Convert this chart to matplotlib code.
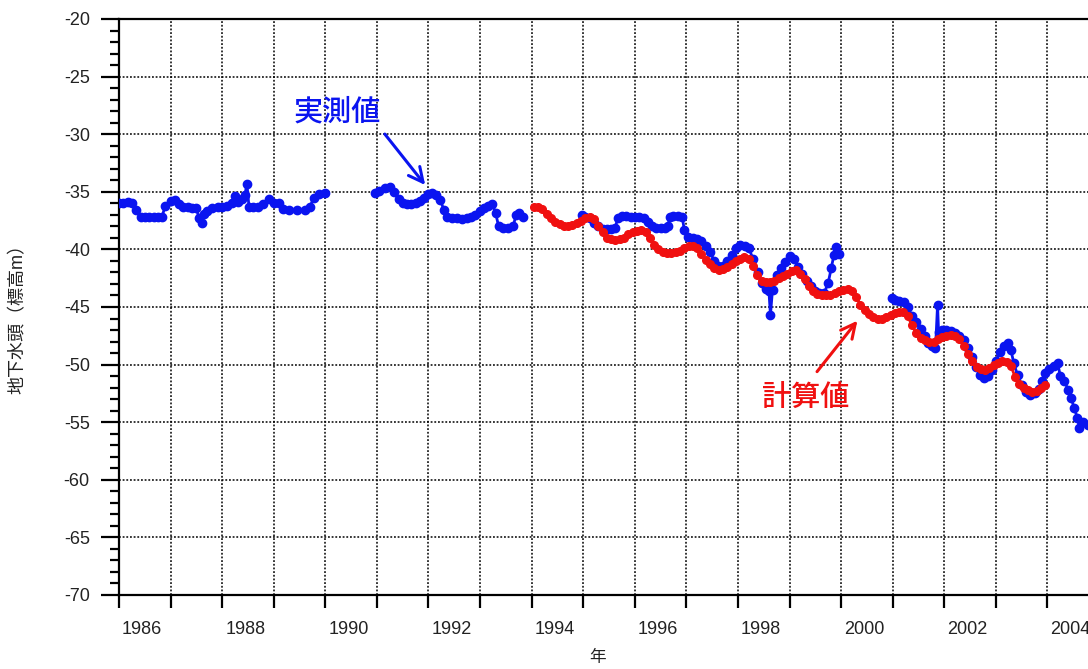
import numpy as np
import matplotlib
matplotlib.use("Agg")
import matplotlib.pyplot as plt
from matplotlib.ticker import MultipleLocator

plt.rcParams["font.family"] = ["Liberation Sans", "Noto Sans CJK JP", "DejaVu Sans"]
plt.rcParams["axes.unicode_minus"] = False

# measured head (decimal year, m) -- four separate records
obs1_x = [1986.00, 1986.08, 1986.17, 1986.25, 1986.33, 1986.42, 1986.50, 1986.58,
          1986.67, 1986.75, 1986.83, 1986.90, 1987.00, 1987.08, 1987.17, 1987.25,
          1987.33, 1987.42, 1987.50, 1987.55, 1987.60, 1987.65, 1987.70, 1987.80,
          1987.92, 1988.00, 1988.10, 1988.20, 1988.25, 1988.30, 1988.38, 1988.44,
          1988.48, 1988.52, 1988.60, 1988.70, 1988.80, 1988.90, 1989.00, 1989.10,
          1989.18, 1989.30, 1989.45, 1989.60, 1989.70, 1989.78, 1989.88, 1990.00]
obs1_y = [-36.0, -36.0, -35.9, -36.0, -36.6, -37.2, -37.2, -37.2,
          -37.2, -37.2, -37.2, -36.2, -35.8, -35.7, -36.1, -36.3,
          -36.3, -36.4, -36.4, -37.3, -37.7, -36.9, -36.7, -36.4,
          -36.3, -36.3, -36.2, -36.0, -35.4, -35.9, -35.6, -35.3,
          -34.3, -36.3, -36.3, -36.3, -36.1, -35.6, -36.0, -36.0,
          -36.5, -36.6, -36.6, -36.6, -36.3, -35.5, -35.2, -35.1]

obs2_x = [1990.97, 1991.05, 1991.15, 1991.25, 1991.33, 1991.42, 1991.50, 1991.58,
          1991.67, 1991.75, 1991.84, 1991.92, 1992.00, 1992.07, 1992.15, 1992.23,
          1992.30, 1992.36, 1992.45, 1992.55, 1992.65, 1992.75, 1992.83, 1992.91,
          1993.00, 1993.08, 1993.16, 1993.24, 1993.30, 1993.36, 1993.45, 1993.55,
          1993.64, 1993.70, 1993.76, 1993.84]
obs2_y = [-35.1, -34.9, -34.7, -34.6, -35.0, -35.6, -36.0, -36.1,
          -36.1, -36.0, -35.8, -35.5, -35.2, -35.1, -35.3, -35.7,
          -36.6, -37.2, -37.3, -37.3, -37.4, -37.3, -37.2, -37.0,
          -36.7, -36.4, -36.2, -36.1, -36.8, -38.0, -38.1, -38.1,
          -38.0, -37.0, -36.8, -37.2]

obs3_x = [1994.98, 1995.04, 1995.13, 1995.21, 1995.29, 1995.38, 1995.46, 1995.54,
          1995.62, 1995.67, 1995.75, 1995.83, 1995.92, 1996.00, 1996.08, 1996.17,
          1996.25, 1996.33, 1996.42, 1996.50, 1996.58, 1996.64, 1996.68, 1996.75,
          1996.83, 1996.92, 1996.96, 1997.04, 1997.13, 1997.21, 1997.29, 1997.38,
          1997.46, 1997.54, 1997.62, 1997.71, 1997.79, 1997.88, 1997.96, 1998.04,
          1998.13, 1998.21, 1998.29, 1998.38, 1998.46, 1998.54, 1998.60, 1998.63,
          1998.67, 1998.75, 1998.83, 1998.92, 1999.00, 1999.08, 1999.17, 1999.25,
          1999.33, 1999.42, 1999.50, 1999.58, 1999.67, 1999.75, 1999.81, 1999.86,
          1999.90, 1999.95]
obs3_y = [-37.0, -37.2, -37.3, -37.7, -38.0, -38.2, -38.2, -38.2,
          -38.1, -37.3, -37.1, -37.1, -37.2, -37.2, -37.2, -37.3,
          -37.6, -38.0, -38.1, -38.1, -38.1, -38.0, -37.2, -37.1,
          -37.1, -37.2, -38.3, -38.9, -39.0, -39.1, -39.3, -39.7,
          -40.2, -41.0, -41.4, -41.4, -41.0, -40.5, -39.9, -39.6,
          -39.7, -39.9, -40.8, -42.0, -42.9, -43.4, -43.6, -45.7,
          -43.5, -42.2, -41.6, -41.1, -40.6, -40.8, -41.5, -42.1,
          -42.7, -43.2, -43.6, -43.8, -43.8, -42.9, -41.6, -40.5,
          -39.8, -40.4]

obs4_x = [2000.99, 2001.05, 2001.13, 2001.21, 2001.29, 2001.38, 2001.46, 2001.54,
          2001.62, 2001.69, 2001.77, 2001.83, 2001.87, 2001.89, 2001.96, 2002.04,
          2002.13, 2002.21, 2002.29, 2002.38, 2002.46, 2002.54, 2002.62, 2002.70,
          2002.77, 2002.85, 2002.92, 2003.00, 2003.08, 2003.15, 2003.23, 2003.29,
          2003.35, 2003.42, 2003.50, 2003.58, 2003.67, 2003.75, 2003.83, 2003.90,
          2003.96, 2004.04, 2004.12, 2004.20, 2004.25, 2004.33, 2004.40, 2004.46,
          2004.52, 2004.58, 2004.62, 2004.69, 2004.78]
obs4_y = [-44.2, -44.4, -44.5, -44.6, -45.0, -45.8, -46.3, -46.9,
          -47.5, -48.1, -48.4, -48.6, -44.8, -47.2, -47.0, -47.0,
          -47.1, -47.3, -47.5, -47.9, -48.6, -49.3, -50.2, -50.9,
          -51.2, -51.0, -50.5, -49.7, -48.9, -48.4, -48.1, -48.7,
          -49.9, -50.9, -51.8, -52.4, -52.6, -52.5, -52.1, -51.4,
          -50.7, -50.4, -50.1, -49.9, -51.0, -51.4, -52.2, -52.9,
          -53.8, -54.6, -55.5, -55.0, -55.2]

# simulated head, monthly from Jan 1994
calc_start = 1994
calc_y = [-36.3, -36.3, -36.5, -36.9, -37.3, -37.6, -37.8, -38.0, -38.0, -37.9, -37.7, -37.5,
          -37.3, -37.2, -37.4, -38.0, -38.5, -39.0, -39.1, -39.2, -39.1, -39.0, -38.7, -38.5,
          -38.4, -38.3, -38.5, -39.0, -39.6, -40.0, -40.2, -40.3, -40.3, -40.2, -40.1, -39.9,
          -39.7, -39.7, -39.9, -40.4, -40.9, -41.3, -41.6, -41.8, -41.7, -41.5, -41.3, -41.0,
          -40.8, -40.7, -40.8, -41.4, -42.2, -42.7, -42.8, -42.8, -42.7, -42.5, -42.3, -42.1,
          -41.9, -41.8, -42.1, -42.6, -43.2, -43.6, -43.9, -44.0, -44.0, -44.0, -43.8, -43.6,
          -43.5, -43.4, -43.6, -44.1, -44.8, -45.3, -45.6, -45.9, -46.0, -46.0, -45.9, -45.7,
          -45.5, -45.4, -45.4, -45.8, -46.6, -47.3, -47.7, -47.9, -48.0, -48.0, -47.8, -47.6,
          -47.5, -47.4, -47.5, -47.8, -48.4, -49.1, -49.7, -50.2, -50.4, -50.5, -50.3, -50.0,
          -49.9, -49.7, -49.8, -50.1, -51.1, -51.7, -52.0, -52.2, -52.4, -52.3, -52.0, -51.8]
calc_x = calc_start + (np.arange(len(calc_y)) + 0.5) / 12

year_ticks = list(range(1986, 2006))
label_years = list(range(1986, 2005, 2))

BLUE = "#0a14f0"
RED = "#f01010"

fig = plt.figure(figsize=(10.88, 6.69), dpi=100)
ax = fig.add_axes([119 / 1088, 1 - 595 / 669, 980 / 1088, 576 / 669])

for xs, ys in [(obs1_x, obs1_y), (obs2_x, obs2_y), (obs3_x, obs3_y), (obs4_x, obs4_y)]:
    ax.plot(xs, ys, color=BLUE, lw=2.0, marker="o", ms=6.0, mec=BLUE, mfc=BLUE, zorder=3)
ax.plot(calc_x, calc_y, color=RED, lw=2.0, marker="o", ms=5.5, mec=RED, mfc=RED, zorder=4)

ax.set_xlim(1986, 2005)
ax.set_ylim(-70, -20)

# year boundaries carry the ticks/grid, labels sit near mid-year
ax.set_xticks(year_ticks)
ax.set_xticklabels([])
ax.set_xticks([y + 0.45 for y in label_years], minor=True)
ax.set_xticklabels([str(y) for y in label_years], minor=True)
ax.tick_params(axis="x", which="major", direction="out", length=9, width=1.6)
ax.tick_params(axis="x", which="minor", length=0, pad=19, labelsize=13, labelcolor="#222222")

ax.yaxis.set_major_locator(MultipleLocator(5))
ax.yaxis.set_minor_locator(MultipleLocator(1))
ax.tick_params(axis="y", which="major", direction="out", length=13, width=1.6,
               pad=8, labelsize=13, labelcolor="#222222")
ax.tick_params(axis="y", which="minor", direction="out", length=6.5, width=1.6)

ax.grid(True, which="major", color="black", linestyle=(0, (1.2, 1.2)), lw=1.1)
for side in ["left", "bottom", "top", "right"]:
    ax.spines[side].set_linewidth(1.6)

# callouts
ax.text(1990.23, -28.1, "実測値", color=BLUE, fontsize=21, fontweight="medium",
        ha="center", va="center")
ax.annotate("", xy=(1991.97, -34.6), xytext=(1991.12, -29.8),
            arrowprops=dict(arrowstyle="->", color=BLUE, lw=2.2, mutation_scale=26))
ax.text(1999.31, -53.0, "計算値", color=RED, fontsize=21, fontweight="medium",
        ha="center", va="center")
ax.annotate("", xy=(2000.35, -46.0), xytext=(1999.50, -50.8),
            arrowprops=dict(arrowstyle="->", color=RED, lw=2.2, mutation_scale=26))

fig.text(18 / 1088, 1 - 315 / 669, "地下水頭（標高m）", rotation=90,
         ha="center", va="center", fontsize=13, color="#222222")
fig.text(598 / 1088, 1 - 657 / 669, "年", ha="center", va="center",
         fontsize=12, color="#222222")

fig.savefig("out.png", dpi=100, facecolor="white")
